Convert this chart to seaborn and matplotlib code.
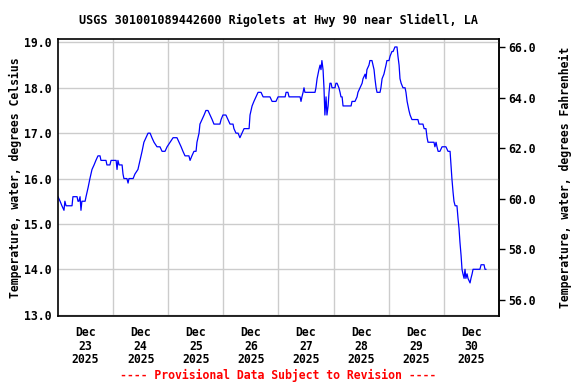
import pandas as pd
import numpy as np
import seaborn as sns
import matplotlib.pyplot as plt
import matplotlib.dates as mdates
from matplotlib.ticker import FixedLocator, FormatStrFormatter

# hours after 2025-12-23 00:00 and water temperature (deg C)
hours = [0.0, 0.9, 1.7, 2.6, 3.0, 3.5, 6.1, 6.5, 8.3, 8.7, 9.1, 9.6, 10.0, 10.4, 11.8, 12.2,
         13.1, 13.9, 14.8, 15.7, 16.5, 17.4, 18.3, 18.7, 20.9, 21.3, 22.6, 23.1, 25.3, 25.7,
         26.1, 26.6, 27.9, 28.3, 28.7, 30.0, 30.5, 30.9, 32.7, 33.5, 34.8, 35.7, 36.6, 37.4,
         38.3, 39.2, 40.1, 40.9, 41.8, 43.1, 44.4, 45.3, 46.6, 47.5, 48.8, 50.1, 51.8, 52.7,
         53.6, 54.4, 55.3, 57.0, 57.5, 58.3, 59.2, 60.1, 60.5, 61.4, 61.8, 62.7, 63.6, 64.4,
         65.3, 66.2, 67.1, 67.9, 70.5, 71.0, 71.8, 73.1, 74.0, 74.9, 76.2, 76.6, 77.5, 78.4,
         79.2, 80.1, 81.0, 83.2, 83.6, 84.5, 85.3, 86.2, 87.1, 88.4, 89.3, 92.3, 93.2, 94.9,
         95.8, 98.9, 99.3, 100.1, 100.6, 105.4, 105.8, 106.2, 106.7, 107.1, 107.5, 111.9,
         112.3, 112.8, 113.2, 113.6, 114.1, 114.5, 114.9, 115.4, 115.8, 116.2, 116.7, 117.1,
         117.6, 118.0, 118.4, 118.9, 119.3, 120.6, 121.0, 121.5, 122.3, 122.8, 123.2, 123.7,
         124.1, 127.6, 128.0, 129.3, 130.2, 130.6, 131.5, 132.4, 132.8, 133.7, 134.1, 134.5,
         135.4, 135.8, 136.7, 137.6, 138.0, 138.5, 138.9, 140.2, 140.6, 141.1, 141.9, 142.8,
         143.2, 144.1, 144.6, 145.4, 145.9, 146.7, 147.6, 148.0, 148.5, 148.9, 149.4, 150.2,
         151.1, 151.5, 152.0, 152.4, 152.8, 153.3, 154.1, 156.7, 157.2, 158.9, 159.4, 160.2,
         160.7, 161.1, 163.7, 164.1, 164.6, 165.0, 165.5, 166.3, 167.2, 168.9, 169.8, 170.7,
         171.1, 171.5, 172.0, 172.4, 172.9, 173.7, 174.2, 174.6, 175.0, 175.5, 175.9, 176.3,
         176.8, 177.2, 177.6, 178.1, 178.5, 179.4, 179.8, 180.3, 180.7, 183.7, 184.2, 185.5,
         185.9, 186.4]
temp_c = [15.6, 15.5, 15.4, 15.3, 15.5, 15.4, 15.4, 15.6, 15.6, 15.5, 15.5, 15.6, 15.3, 15.5,
          15.5, 15.6, 15.8, 16.0, 16.2, 16.3, 16.4, 16.5, 16.5, 16.4, 16.4, 16.3, 16.3, 16.4,
          16.4, 16.2, 16.4, 16.3, 16.3, 16.1, 16.0, 16.0, 15.9, 16.0, 16.0, 16.1, 16.2, 16.4,
          16.6, 16.8, 16.9, 17.0, 17.0, 16.9, 16.8, 16.7, 16.7, 16.6, 16.6, 16.7, 16.8, 16.9,
          16.9, 16.8, 16.7, 16.6, 16.5, 16.5, 16.4, 16.5, 16.6, 16.6, 16.8, 17.0, 17.2, 17.3,
          17.4, 17.5, 17.5, 17.4, 17.3, 17.2, 17.2, 17.3, 17.4, 17.4, 17.3, 17.2, 17.2, 17.1,
          17.0, 17.0, 16.9, 17.0, 17.1, 17.1, 17.4, 17.6, 17.7, 17.8, 17.9, 17.9, 17.8, 17.8,
          17.7, 17.7, 17.8, 17.8, 17.9, 17.9, 17.8, 17.8, 17.7, 17.8, 17.9, 18.0, 17.9, 17.9,
          18.0, 18.2, 18.3, 18.4, 18.5, 18.4, 18.6, 18.4, 18.0, 17.4, 17.8, 17.4, 17.6, 17.9,
          18.1, 18.1, 18.0, 18.0, 18.1, 18.1, 18.0, 17.9, 17.8, 17.8, 17.6, 17.6, 17.7, 17.7,
          17.8, 17.9, 18.0, 18.1, 18.2, 18.3, 18.2, 18.4, 18.5, 18.6, 18.6, 18.4, 18.2, 18.0,
          17.9, 17.9, 18.0, 18.2, 18.3, 18.5, 18.6, 18.6, 18.7, 18.8, 18.8, 18.9, 18.9, 18.7,
          18.5, 18.2, 18.1, 18.0, 18.0, 17.9, 17.7, 17.6, 17.5, 17.4, 17.3, 17.3, 17.2, 17.2,
          17.1, 17.1, 16.9, 16.8, 16.8, 16.7, 16.8, 16.7, 16.6, 16.6, 16.7, 16.7, 16.6, 16.6,
          16.3, 16.0, 15.7, 15.5, 15.4, 15.4, 15.1, 14.9, 14.6, 14.3, 14.0, 13.9, 13.8, 14.0,
          13.8, 13.9, 13.8, 13.7, 13.8, 13.9, 14.0, 14.0, 14.1, 14.1, 14.0, 14.0]

start = pd.Timestamp("2025-12-23")
df = pd.DataFrame({"time": start + pd.to_timedelta(hours, unit="h"), "temp": temp_c})

sns.set_style("white")
plt.rcParams["font.family"] = ["DejaVu Sans Mono"]
plt.rcParams["font.weight"] = "bold"
plt.rcParams["text.color"] = "black"
plt.rcParams["axes.labelcolor"] = "black"
plt.rcParams["xtick.color"] = "black"
plt.rcParams["ytick.color"] = "black"

fig = plt.figure(figsize=(5.76, 3.84), dpi=100)
ax = fig.add_axes([0.1007, 0.177, 0.7656, 0.7214])

sns.lineplot(data=df, x="time", y="temp", ax=ax, color="#0000ff", linewidth=0.9)

ax.set_xlim(start, start + pd.Timedelta(days=8))
ax.set_ylim(12.97, 19.075)

# grid at midnight, labels at noon
midnights = [start + pd.Timedelta(days=d) for d in range(1, 8)]
noons = [start + pd.Timedelta(days=d, hours=12) for d in range(8)]
ax.xaxis.set_minor_locator(FixedLocator(mdates.date2num(midnights)))
ax.xaxis.set_major_locator(FixedLocator(mdates.date2num(noons)))
ax.set_xticklabels([f"Dec\n{t.day}\n{t.year}" for t in noons], fontsize=8.3,
                   fontweight="bold", linespacing=1.08)
ax.tick_params(axis="x", which="both", length=0, pad=7)
ax.grid(True, which="minor", axis="x", color="#cccccc", linewidth=1)
ax.grid(True, which="major", axis="y", color="#cccccc", linewidth=1)

ax.set_yticks(np.arange(13, 19.5, 1.0))
ax.yaxis.set_major_formatter(FormatStrFormatter("%.1f"))
ax.tick_params(axis="y", length=0, pad=5, labelsize=8.3)
ax.set_xlabel("")
ax.set_ylabel("Temperature, water, degrees Celsius", fontsize=8.3, fontweight="bold", labelpad=1)

for s in ax.spines.values():
    s.set_color("black")
    s.set_linewidth(1.2)

sec = ax.secondary_yaxis("right", functions=(lambda c: c * 9 / 5 + 32, lambda f: (f - 32) * 5 / 9))
sec.set_yticks(np.arange(56, 67, 2))
sec.yaxis.set_major_formatter(FormatStrFormatter("%.1f"))
sec.tick_params(axis="y", length=4, width=1, direction="out", pad=3, labelsize=8.3, color="black")
sec.set_ylabel("Temperature, water, degrees Fahrenheit", fontsize=8.3, fontweight="bold", labelpad=16)
sec.spines["right"].set_linewidth(1.2)

fig.text(0.4835, 0.948, "USGS 301001089442600 Rigolets at Hwy 90 near Slidell, LA",
         ha="center", va="center", fontsize=8.5, fontweight="bold")
fig.text(0.4835, 0.023, "---- Provisional Data Subject to Revision ----",
         ha="center", va="center", fontsize=8.3, fontweight="bold", color="#ff0000")

fig.savefig("out.png", dpi=100)
